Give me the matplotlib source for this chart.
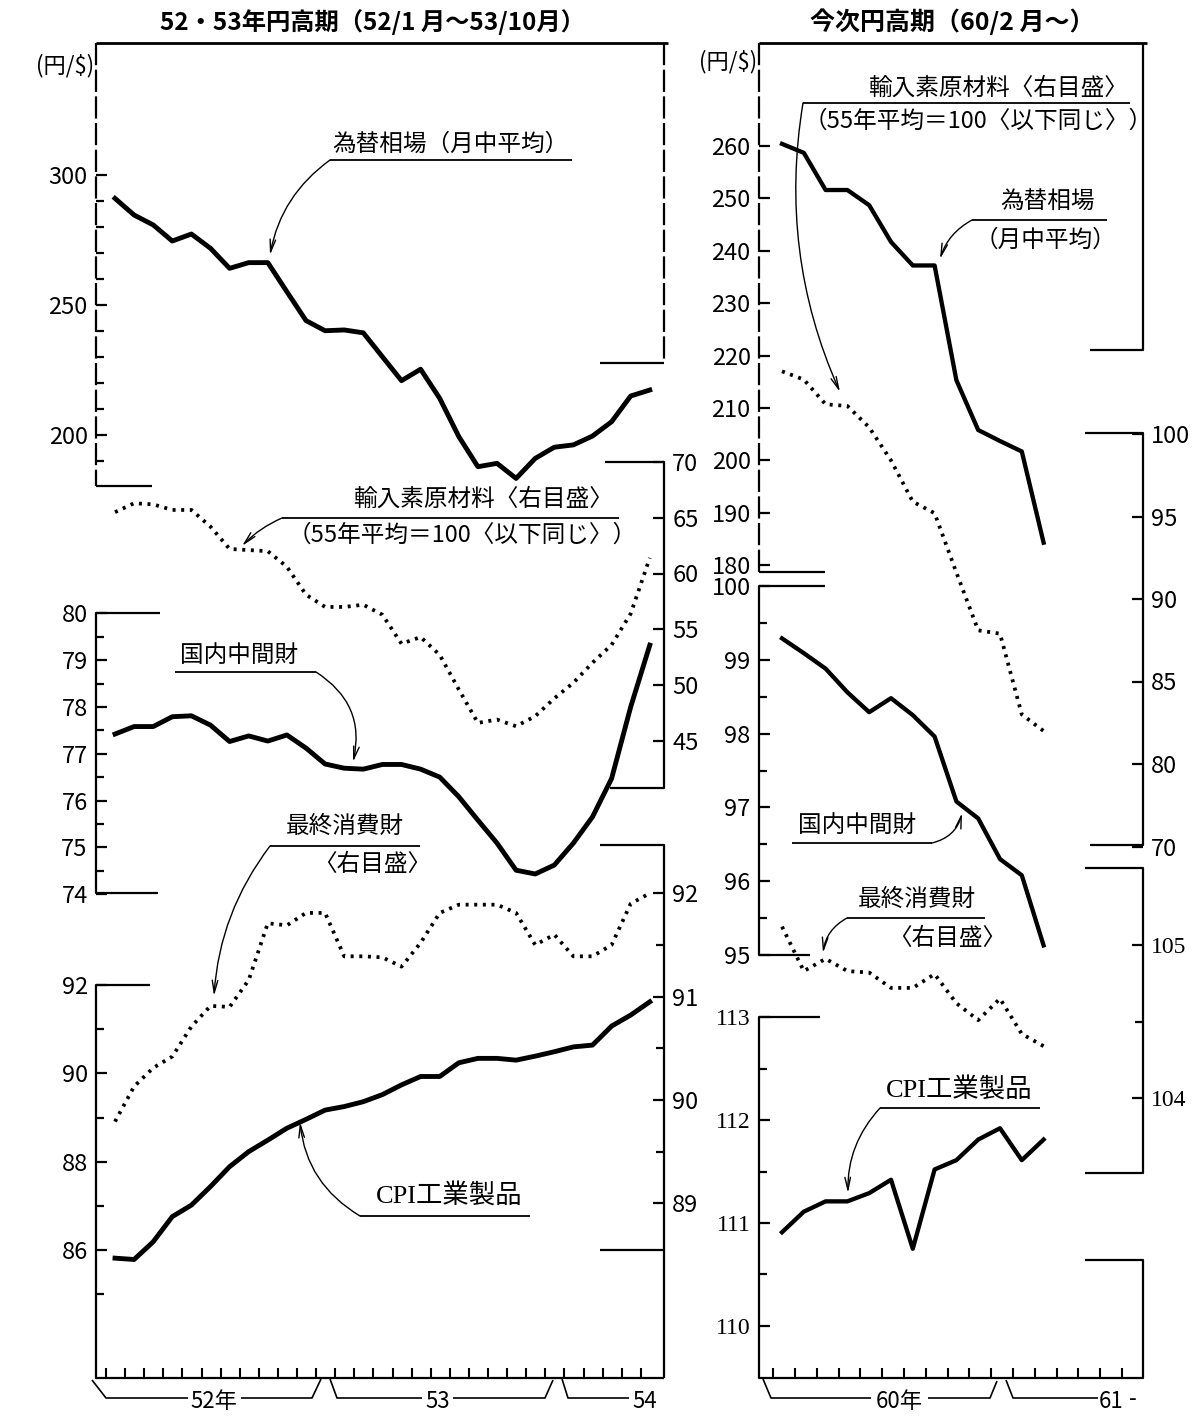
import numpy as np
import matplotlib
matplotlib.use("Agg")
import matplotlib.pyplot as plt

plt.rcParams['font.family'] = ['Noto Sans CJK JP', 'DejaVu Sans']

W, H = 1199, 1417

# ---- data: left period 52/1 .. 54/5 (monthly), right period 60/2 .. 61/2
months_l = np.arange(29)
fx_l = [291.0, 284.6, 280.8, 274.6, 277.3, 271.8, 264.1, 266.3, 266.3, 255.1,
        244.0, 240.1, 240.4, 239.3, 230.1, 220.9, 225.3, 214.1, 199.4, 187.8,
        189.1, 183.3, 191.0, 195.3, 196.2, 199.6, 205.1, 215.0, 217.3]
imp_l = [65.5, 66.3, 66.2, 65.7, 65.7, 64.2, 62.2, 62.1, 62.0, 60.6,
         58.1, 57.0, 57.0, 57.2, 56.3, 53.7, 54.3, 52.7, 49.6, 46.6,
         46.9, 46.3, 47.2, 48.8, 50.2, 52.0, 53.6, 56.4, 61.4]
dom_l = [77.42, 77.58, 77.58, 77.79, 77.81, 77.61, 77.26, 77.38, 77.27, 77.40,
         77.12, 76.78, 76.69, 76.67, 76.77, 76.77, 76.67, 76.50, 76.08, 75.58,
         75.09, 74.51, 74.43, 74.62, 75.09, 75.65, 76.47, 78.00, 79.32]
fin_l = [89.79, 90.13, 90.31, 90.42, 90.71, 90.91, 90.90, 91.16, 91.71, 91.69,
         91.81, 91.81, 91.39, 91.39, 91.38, 91.29, 91.52, 91.81, 91.89, 91.89,
         91.89, 91.81, 91.50, 91.60, 91.39, 91.39, 91.50, 91.90, 92.00]
cpi_l = [85.82, 85.79, 86.19, 86.76, 87.02, 87.44, 87.89, 88.23, 88.49, 88.76,
         88.96, 89.17, 89.25, 89.36, 89.52, 89.74, 89.93, 89.93, 90.24, 90.34,
         90.34, 90.30, 90.39, 90.49, 90.60, 90.64, 91.07, 91.32, 91.62]

months_r = np.arange(13)
fx_r = [260.4, 258.7, 251.6, 251.6, 248.7, 241.7, 237.2, 237.2, 215.3, 205.8,
        203.7, 201.7, 184.3]
imp_r = [103.8, 103.3, 101.8, 101.7, 100.4, 98.4, 95.9, 95.2, 91.6, 88.1,
         87.9, 83.0, 82.0]
dom_r = [99.29, 99.09, 98.88, 98.56, 98.29, 98.48, 98.25, 97.96, 97.08, 96.85,
         96.30, 96.08, 95.13]
fin_r = [105.12, 104.83, 104.91, 104.83, 104.82, 104.72, 104.72, 104.81, 104.62,
         104.51, 104.65, 104.42, 104.34]
cpi_r = [110.91, 111.11, 111.21, 111.21, 111.29, 111.42, 110.75, 111.52, 111.61,
         111.81, 111.92, 111.61, 111.81]

fig = plt.figure(figsize=(W / 100, H / 100), dpi=100)

# background axes in pixel units for frames, brackets and labels
bg = fig.add_axes([0, 0, 1, 1])
bg.set_xlim(0, W)
bg.set_ylim(H, 0)
bg.axis('off')


def seg(pts, lw=1.6, ls='-'):
    xs, ys = zip(*pts)
    bg.plot(xs, ys, color='black', lw=lw, ls=ls, solid_capstyle='butt')


def pointer(start, tip, rad):
    bg.annotate('', xy=tip, xytext=start,
                arrowprops=dict(arrowstyle='->,head_length=0.9,head_width=0.2',
                                connectionstyle=f'arc3,rad={rad}', lw=1.0,
                                color='black', shrinkA=0, shrinkB=0))


LX0, LX1 = 96, 664
RX0, RX1 = 759, 1143
# month index -> pixel: left 115 + 19.1k, right 782 + 21.8k
xlim_l = ((LX0 - 115) / 19.1, (LX1 - 115) / 19.1)
xlim_r = ((RX0 - 782) / 21.8, (RX1 - 782) / 21.8)


def sub(x0, x1, y0, y1, xlim, vref, yref, ppu):
    ax = fig.add_axes([x0 / W, 1 - y1 / H, (x1 - x0) / W, (y1 - y0) / H])
    ax.set_xlim(*xlim)
    ax.set_ylim(vref - (y1 - yref) / ppu, vref - (y0 - yref) / ppu)
    ax.patch.set_visible(False)
    for s in ax.spines.values():
        s.set_visible(False)
    ax.tick_params(axis='x', bottom=False, labelbottom=False)
    ax.tick_params(axis='y', left=False, labelleft=False, right=False, labelright=False)
    return ax


def scale(ax, side, major, labels=None, minor=(), fs=17, family=None, pad=6):
    left = side == 'left'
    ax.set_yticks(major)
    ax.set_yticklabels(labels if labels else [str(m) for m in major])
    ax.set_yticks(list(minor), minor=True)
    ax.tick_params(axis='y', which='both', left=left, labelleft=left,
                   right=not left, labelright=not left, direction='in',
                   width=1.6, color='black', labelsize=fs, pad=pad)
    ax.tick_params(axis='y', which='major', length=8)
    ax.tick_params(axis='y', which='minor', length=5.5)
    if family:
        for t in ax.get_yticklabels():
            t.set_family(family)


solid = dict(color='black', lw=3.5, solid_joinstyle='round', clip_on=False)
dotted = dict(color='black', lw=2.7, ls=(0, (0.8, 1.5)), clip_on=False)

# ---- left panel
ax = sub(LX0, LX1, 42, 486, xlim_l, 300, 175, 2.6)
scale(ax, 'left', [200, 250, 300], minor=[190, 210, 220, 230, 240, 260, 270, 280, 290])
ax.plot(months_l, fx_l, **solid)

ax = sub(LX0, LX1, 440, 800, xlim_l, 70, 462, 11.15)
scale(ax, 'right', [45, 50, 55, 60, 65, 70])
ax.plot(months_l, imp_l, **dotted)

ax = sub(LX0, LX1, 600, 900, xlim_l, 80, 613.3, 46.8)
scale(ax, 'left', [74, 75, 76, 77, 78, 79, 80], minor=[74.5, 75.5, 76.5, 77.5, 78.5, 79.5])
ax.plot(months_l, dom_l, **solid)

ax = sub(LX0, LX1, 840, 1255, xlim_l, 92, 893.3, 103.3)
scale(ax, 'right', [89, 90, 91, 92], minor=[89.5, 90.5, 91.5])
ax.plot(months_l, fin_l, **dotted)

ax = sub(LX0, LX1, 980, 1378, xlim_l, 92, 985, 44.2)
scale(ax, 'left', [86, 88, 90, 92], minor=[85, 87, 89, 91])
ax.plot(months_l, cpi_l, **solid)
ax.set_xticks(np.arange(29) - 0.47)
ax.tick_params(axis='x', bottom=True, direction='in', length=7, width=1.5, labelbottom=False)

# ---- right panel
rsolid = dict(solid, lw=3.1)
ax = sub(RX0, RX1, 43, 572, xlim_r, 260, 146, 5.24)
scale(ax, 'left', [180, 190, 200, 210, 220, 230, 240, 250, 260])
ax.plot(months_r, fx_r, **rsolid)

ax = sub(RX0, RX1, 360, 850, xlim_r, 100, 434, 16.5)
scale(ax, 'right', [100, 95, 90, 85, 80, 75], labels=['100', '95', '90', '85', '80', '70'])
ax.plot(months_r, imp_r, **dotted)

ax = sub(RX0, RX1, 580, 960, xlim_r, 95, 955, 73.8)
scale(ax, 'left', [95, 96, 97, 98, 99, 100], minor=[95.5, 96.5, 97.5, 98.5, 99.5])
ax.plot(months_r, dom_r, **rsolid)

ax = sub(RX0, RX1, 860, 1180, xlim_r, 105, 945, 153.3)
scale(ax, 'right', [104, 105], minor=[104.5], family=['Liberation Serif'])
ax.plot(months_r, fin_r, **dotted)

ax = sub(RX0, RX1, 1010, 1378, xlim_r, 112, 1120, 103)
scale(ax, 'left', [110, 111, 112, 113], minor=[110.5, 111.5, 112.5], family=['Liberation Serif'])
ax.plot(months_r, cpi_r, **rsolid)
ax.set_xticks(np.arange(17) - 0.4)
ax.tick_params(axis='x', bottom=True, direction='in', length=7, width=1.5, labelbottom=False)

# ---- frames and scale brackets
seg([(LX0, 43), (LX1 + 4, 43)], lw=2)
seg([(LX0, 43), (LX0, 486)], ls=(0, (10, 2)))
seg([(LX0, 486), (152, 486)])
seg([(LX1, 43), (LX1, 363)], ls=(0, (10, 2)))
seg([(600, 363), (LX1, 363)])
seg([(605, 462), (LX1, 462), (LX1, 788), (610, 788)])
seg([(160, 613), (LX0, 613), (LX0, 893), (158, 893)])
seg([(600, 845), (LX1, 845), (LX1, 1378)])
seg([(600, 1250), (LX1, 1250)])
seg([(150, 985), (LX0, 985), (LX0, 1378), (LX1, 1378)])

seg([(RX0, 43), (RX1 + 4, 43)], lw=2)
seg([(RX0, 43), (RX0, 572)], ls=(0, (10, 2)))
seg([(RX0, 572), (825, 572)])
seg([(RX1, 43), (RX1, 350), (1090, 350)])
seg([(1085, 433), (RX1, 433), (RX1, 845), (1090, 845)])
seg([(825, 586), (RX0, 586), (RX0, 955), (810, 955)])
seg([(1085, 868), (RX1, 868), (RX1, 1173), (1085, 1173)])
seg([(820, 1017), (RX0, 1017), (RX0, 1378), (RX1, 1378), (RX1, 1260), (1085, 1260)])

# ---- year brackets below the axes
seg([(92, 1380), (106, 1398), (188, 1398)], lw=1.2)
seg([(241, 1398), (312, 1398), (321, 1379)], lw=1.2)
seg([(330, 1379), (337, 1398), (422, 1398)], lw=1.2)
seg([(453, 1398), (545, 1398), (553, 1380)], lw=1.2)
seg([(562, 1379), (568, 1398), (629, 1398)], lw=1.2)
seg([(763, 1379), (771, 1398), (871, 1398)], lw=1.2)
seg([(928, 1398), (990, 1398), (997, 1381)], lw=1.2)
seg([(1006, 1380), (1013, 1398), (1098, 1398)], lw=1.2)
yl = dict(fontsize=16, ha='center', va='center')
bg.text(214, 1401, '52年', **yl)
bg.text(438, 1401, '53', **yl)
bg.text(645, 1401, '54', **yl)
bg.text(899, 1401, '60年', **yl)
bg.text(1111, 1401, '61', **yl)
bg.text(1133, 1399, '-', **yl)

# ---- titles and units
bg.text(372, 22, '52・53年円高期（52/1 月～53/10月）', fontsize=17.5, weight='bold',
        ha='center', va='center')
bg.text(952, 22, '今次円高期（60/2 月～）', fontsize=18, weight='bold',
        ha='center', va='center')
bg.text(94, 66, r'(円/\$)', fontsize=16, ha='right', va='center')
bg.text(757, 62, r'(円/\$)', fontsize=16, ha='right', va='center')

# ---- series labels with pointers
lab = dict(fontsize=17, va='center')
bg.text(332, 144, '為替相場（月中平均）', **lab)
seg([(330, 160), (572, 160)], lw=1.3)
pointer((330, 160), (270, 255), 0.2)

bg.text(353, 499, '輸入素原材料〈右目盛〉', **lab)
bg.text(288, 535, '（55年平均＝100〈以下同じ〉）', **lab)
seg([(282, 518), (619, 518)], lw=1.3)
pointer((282, 518), (242, 546), 0.1)

bg.text(180, 655, '国内中間財', **lab)
seg([(175, 672), (316, 672)], lw=1.3)
pointer((316, 672), (353, 762), -0.35)

bg.text(286, 826, '最終消費財', **lab)
bg.text(313, 864, '〈右目盛〉', **lab)
seg([(270, 846), (420, 846)], lw=1.3)
pointer((270, 846), (214, 996), 0.15)

serif_mix = ['Liberation Serif', 'Noto Sans CJK JP']
bg.text(376, 1195, 'CPI工業製品', fontsize=19, va='center', family=serif_mix)
seg([(360, 1216), (530, 1216)], lw=1.3)
pointer((360, 1216), (300, 1122), -0.25)

bg.text(868, 88, '輸入素原材料〈右目盛〉', **lab)
bg.text(804, 121, '（55年平均＝100〈以下同じ〉）', **lab)
seg([(803, 103), (1130, 103)], lw=1.3)
pointer((803, 103), (840, 392), 0.15)

bg.text(1000, 202, '為替相場', **lab)
bg.text(975, 240, '（月中平均）', **lab)
seg([(972, 220), (1107, 220)], lw=1.3)
pointer((972, 220), (940, 259), 0.2)

bg.text(798, 825, '国内中間財', **lab)
seg([(792, 843), (932, 843)], lw=1.3)
pointer((932, 843), (962, 813), 0.3)

bg.text(858, 899, '最終消費財', **lab)
bg.text(888, 938, '〈右目盛〉', **lab)
seg([(847, 918), (985, 918)], lw=1.3)
pointer((847, 918), (823, 953), 0.25)

bg.text(886, 1089, 'CPI工業製品', fontsize=19, va='center', family=serif_mix)
seg([(880, 1108), (1040, 1108)], lw=1.3)
pointer((880, 1108), (848, 1193), 0.2)

fig.savefig('out.png', dpi=100)
